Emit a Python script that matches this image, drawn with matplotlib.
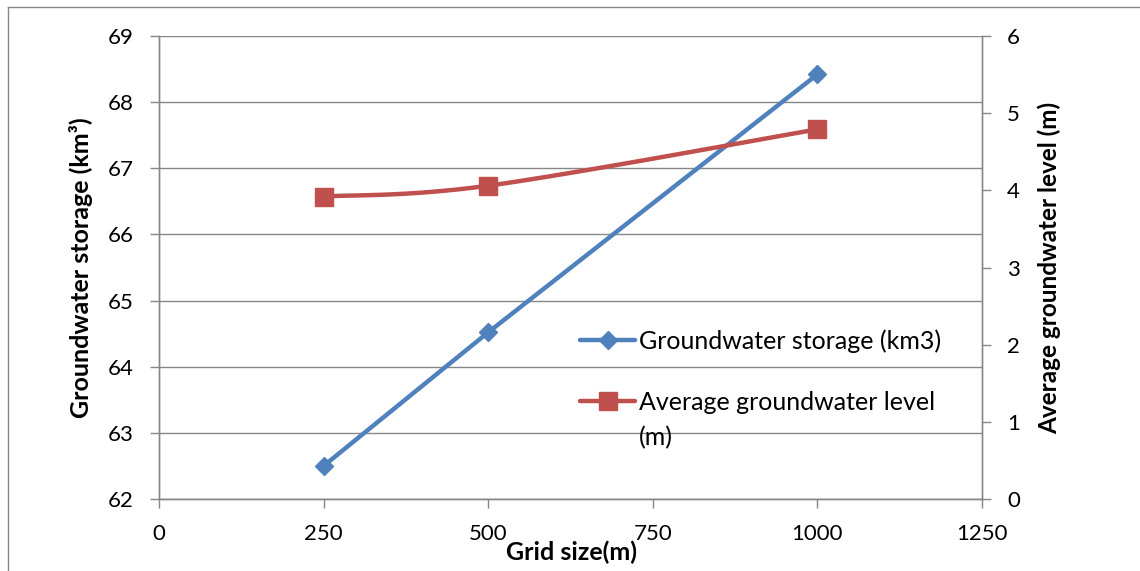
import numpy as np
import matplotlib
matplotlib.use("Agg")
import matplotlib.pyplot as plt
from matplotlib.lines import Line2D

plt.rcParams["font.family"] = ["Lato", "DejaVu Sans"]

# Data
grid_size = [250, 500, 1000]
storage_km3 = [62.50, 64.52, 68.42]
avg_level_m = [3.92, 4.06, 4.79]

x_ticks = [0, 250, 500, 750, 1000, 1250]
left_ticks = [62, 63, 64, 65, 66, 67, 68, 69]
right_ticks = [0, 1, 2, 3, 4, 5, 6]

BLUE = "#4F81BD"
RED = "#C0504D"
GRID = "#878787"

W, H = 1140, 571
fig = plt.figure(figsize=(W / 100, H / 100), dpi=100)
ax = fig.add_axes([159 / W, 1 - 499 / H, (982 - 159) / W, (499 - 36) / H])
ax2 = ax.twinx()

ax.set_xlim(0, 1250)
ax.set_ylim(62, 69)
ax2.set_ylim(0, 6)
ax.set_xticks(x_ticks)
ax.set_yticks(left_ticks)
ax2.set_yticks(right_ticks)

ax.grid(axis="y", color=GRID, lw=1.0)
ax.set_axisbelow(True)
for a in (ax, ax2):
    for s in a.spines.values():
        s.set_color(GRID)
        s.set_linewidth(1.0)
    a.tick_params(colors=GRID, labelcolor="black", labelsize=16,
                  length=6.5, width=1.0, pad=11.5, direction="out")
ax2.spines["top"].set_visible(False)
ax.spines["top"].set_visible(False)


def smooth_curve(xs, ys, xlim, ylim, n=40):
    """Excel-style smoothed line (Catmull-Rom Bezier) computed in screen proportions."""
    sx = (982 - 159) / (xlim[1] - xlim[0])
    sy = (499 - 36) / (ylim[1] - ylim[0])
    P = np.column_stack([(np.asarray(xs) - xlim[0]) * sx,
                         (np.asarray(ys) - ylim[0]) * sy])
    pts = []
    for i in range(len(P) - 1):
        p0 = P[i - 1] if i > 0 else P[i]
        p1, p2 = P[i], P[i + 1]
        p3 = P[i + 2] if i + 2 < len(P) else P[i + 1]
        c1 = p1 + (p2 - p0) / 6
        c2 = p2 - (p3 - p1) / 6
        t = np.linspace(0, 1, n)[:, None]
        seg = ((1 - t) ** 3) * p1 + 3 * ((1 - t) ** 2) * t * c1 \
            + 3 * (1 - t) * t ** 2 * c2 + t ** 3 * p2
        pts.append(seg if i == 0 else seg[1:])
    pts = np.vstack(pts)
    return pts[:, 0] / sx + xlim[0], pts[:, 1] / sy + ylim[0]


# Groundwater storage (left axis)
ax.plot(grid_size, storage_km3, color=BLUE, lw=3.2, marker="D", ms=9.5,
        solid_capstyle="round", zorder=3)

# Average groundwater level (right axis), smoothed
cx, cy = smooth_curve(grid_size, avg_level_m, (0, 1250), (0, 6))
ax2.plot(cx, cy, color=RED, lw=3.2, solid_capstyle="round", zorder=3)
ax2.plot(grid_size, avg_level_m, ls="none", color=RED, marker="s", ms=13, zorder=4)

ax.set_ylabel("Groundwater storage (km\u00b3)", fontsize=18, fontweight="bold")
ax.yaxis.set_label_coords(-0.080, 0.5)
ax2.set_ylabel("Average groundwater level (m)", fontsize=17.5, fontweight="bold")
ax2.yaxis.set_label_coords(1.068, 0.5)
fig.text(572 / W, 1 - 552 / H, "Grid size(m)", fontsize=18, fontweight="bold",
         ha="center", va="center")

handles = [
    Line2D([], [], color=BLUE, lw=3.2, marker="D", ms=9.5, solid_capstyle="round"),
    Line2D([], [], color=RED, lw=3.2, marker="s", ms=13, solid_capstyle="round"),
]
leg = ax2.legend(handles, ["Groundwater storage (km3)", "Average groundwater level"],
                 loc="center left", bbox_to_anchor=(580 / W, 1 - 371.5 / H),
                 bbox_transform=fig.transFigure, frameon=False, fontsize=18,
                 handlelength=2.2, handletextpad=0.15, borderpad=0, borderaxespad=0,
                 labelspacing=1.5)

# Frame around the chart
fig.add_artist(Line2D([8 / W, 8 / W], [0, 1 - 7 / H], color=GRID, lw=1.0))
fig.add_artist(Line2D([8 / W, 1], [1 - 7 / H, 1 - 7 / H], color=GRID, lw=1.0))

fig.canvas.draw()
bb = leg.get_texts()[1].get_window_extent()
fig.text(bb.x0 / W, ((bb.y0 + bb.y1) / 2 - 36) / H, "(m)", fontsize=18,
         ha="left", va="center")

fig.savefig("out.png", dpi=100)
